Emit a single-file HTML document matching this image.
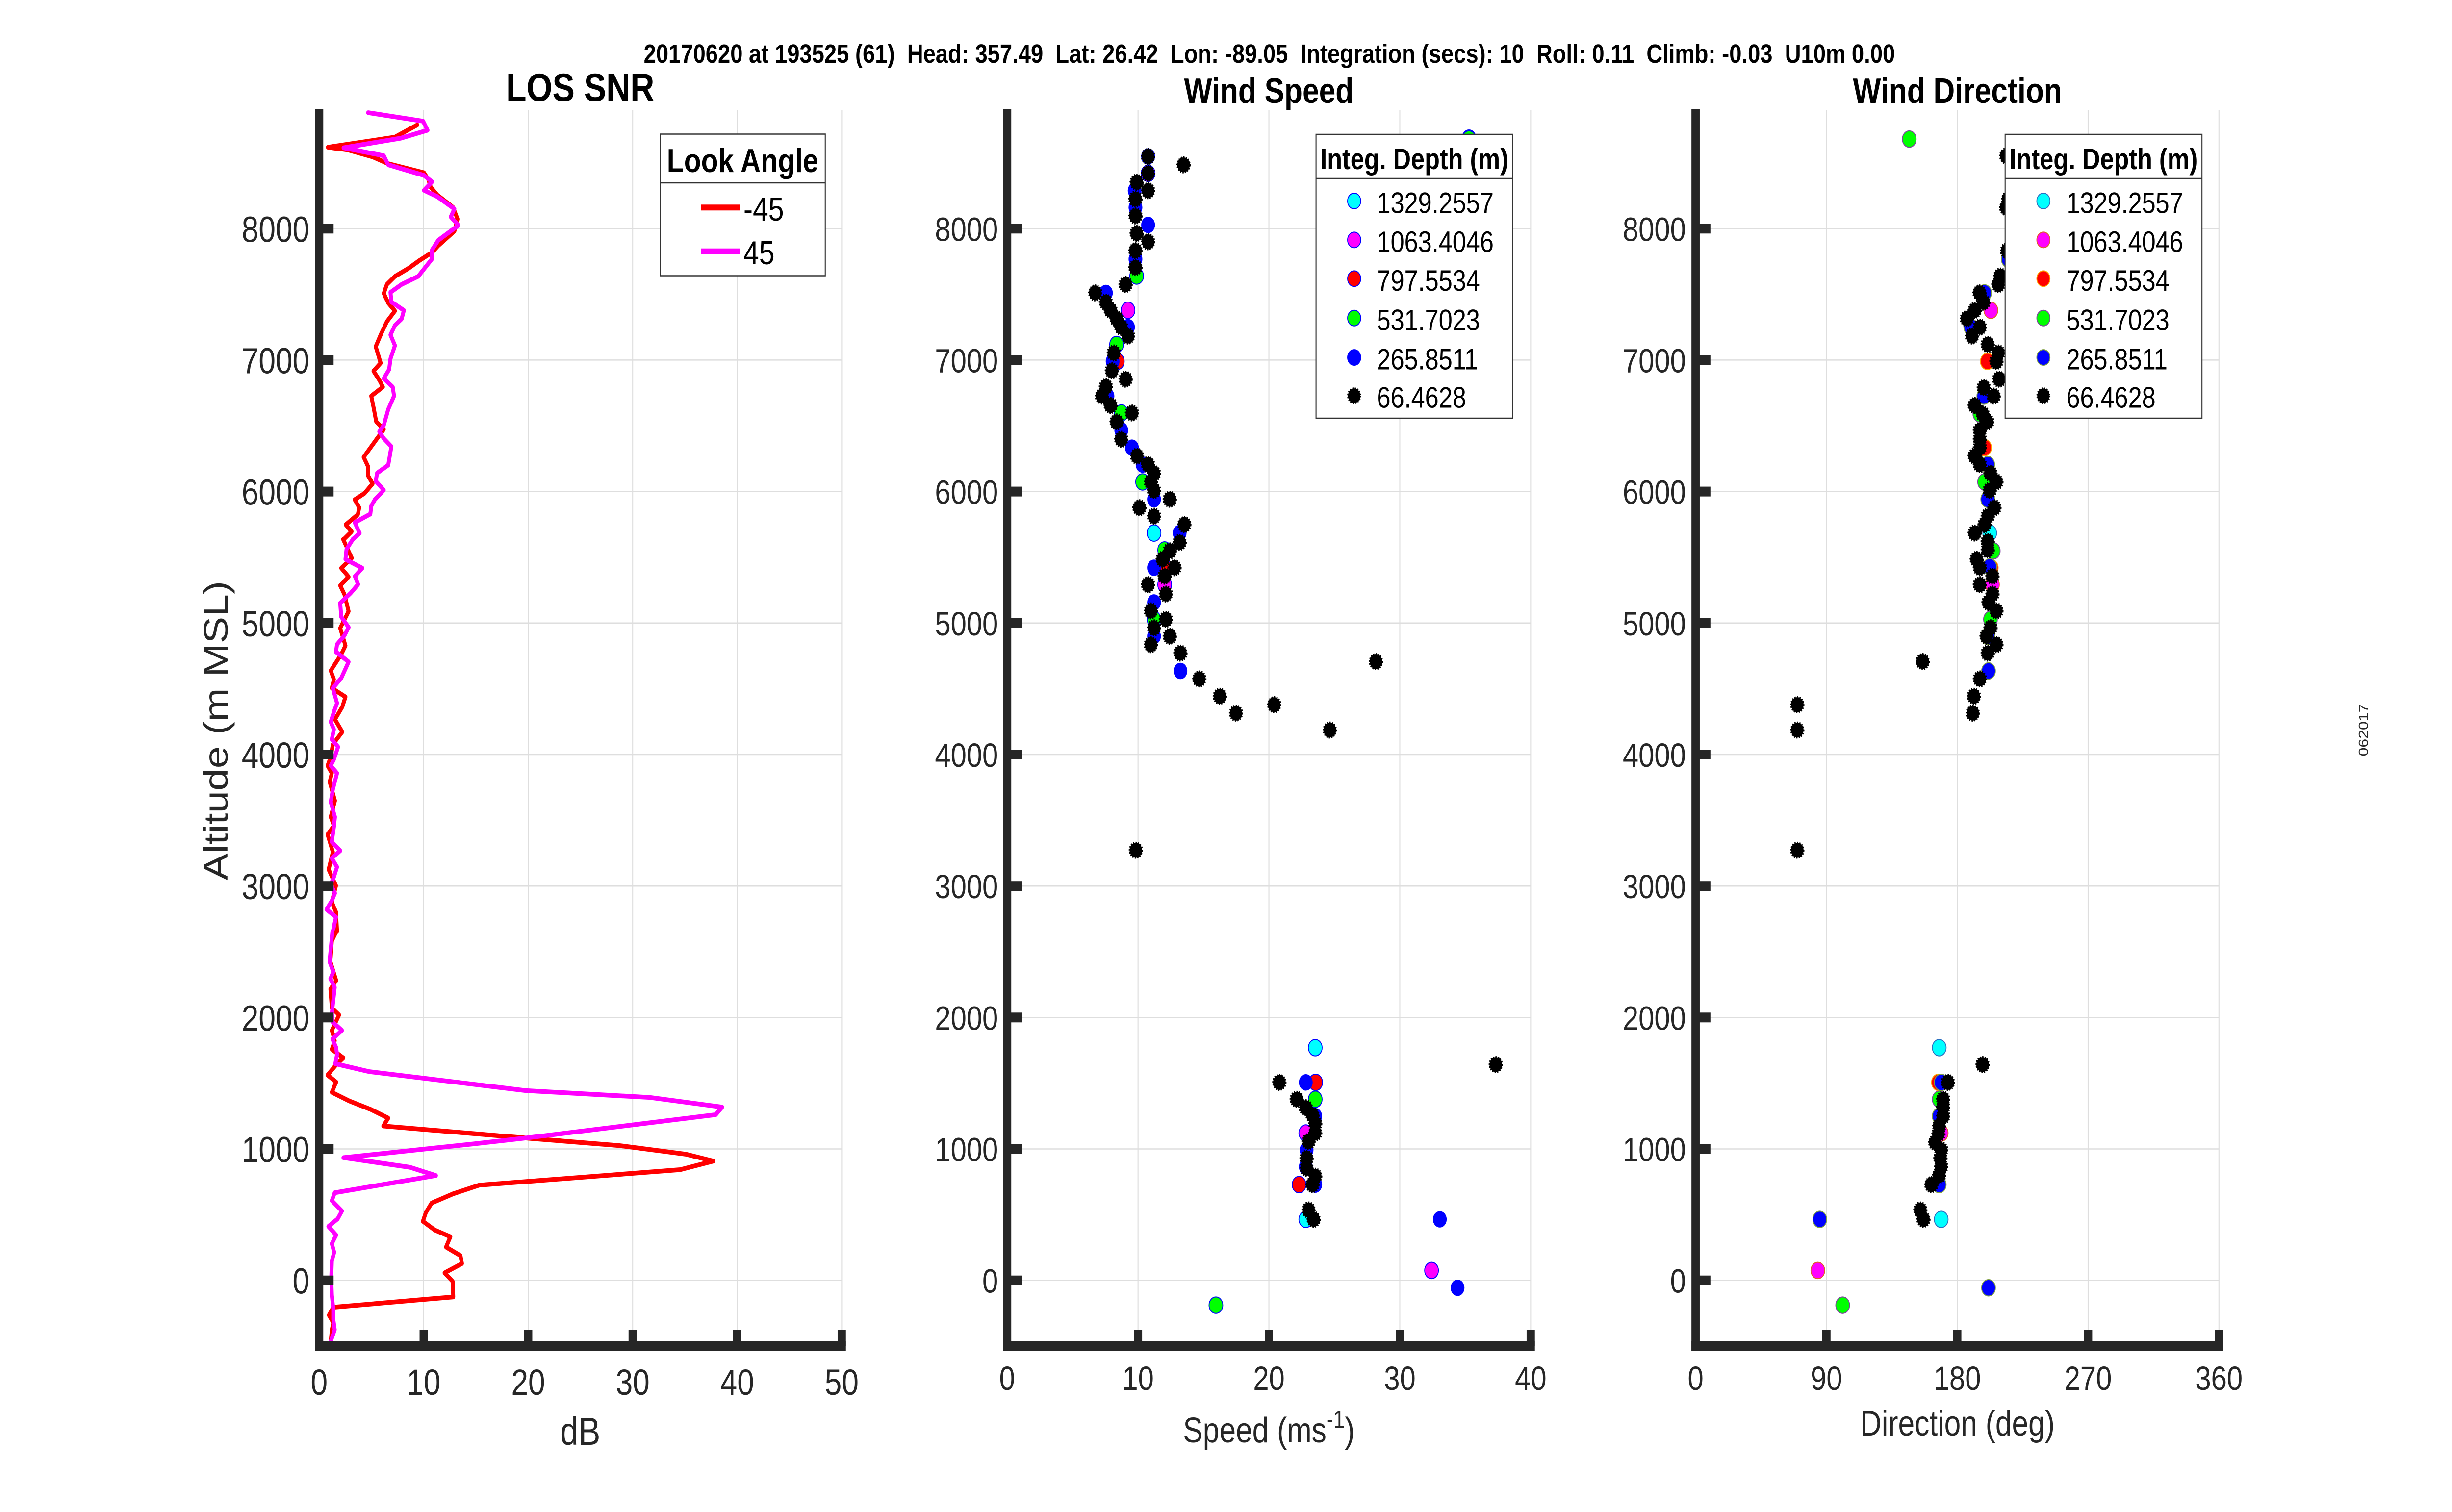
<!DOCTYPE html>
<html><head><meta charset="utf-8"><style>
html,body{margin:0;padding:0;background:#fff;overflow:hidden;width:100%;height:100%;}
svg{display:block;width:100vw;height:100vh;}
text{font-family:"Liberation Sans",Arial,sans-serif;}
</style></head><body>
<svg xmlns="http://www.w3.org/2000/svg" width="5950" height="3084" viewBox="0 0 5950 3084" preserveAspectRatio="none">
<rect width="5950" height="3084" fill="#fff"/>

<!-- ================= GRID ================= -->
<g stroke="#dedede" stroke-width="2.5" fill="none">
  <path d="M1028.1 225V2746M1281.7 225V2746M1535.3 225V2746M1788.9 225V2746M2042.5 225V2746"/>
  <path d="M774.5 2611.7H2042.5M774.5 2343.5H2042.5M774.5 2075.3H2042.5M774.5 1807.2H2042.5M774.5 1539H2042.5M774.5 1270.8H2042.5M774.5 1002.6H2042.5M774.5 734.4H2042.5M774.5 466.3H2042.5"/>
  <path d="M2761.6 225V2746M3079.2 225V2746M3396.8 225V2746M3714.4 225V2746"/>
  <path d="M2444 2611.7H3714.4M2444 2343.5H3714.4M2444 2075.3H3714.4M2444 1807.2H3714.4M2444 1539H3714.4M2444 1270.8H3714.4M2444 1002.6H3714.4M2444 734.4H3714.4M2444 466.3H3714.4"/>
  <path d="M4432 225V2746M4749.5 225V2746M5067 225V2746M5384.5 225V2746"/>
  <path d="M4114.5 2611.7H5384.5M4114.5 2343.5H5384.5M4114.5 2075.3H5384.5M4114.5 1807.2H5384.5M4114.5 1539H5384.5M4114.5 1270.8H5384.5M4114.5 1002.6H5384.5M4114.5 734.4H5384.5M4114.5 466.3H5384.5"/>
</g>

<!-- ================= LOS SNR LINES ================= -->
<g fill="none" stroke-linejoin="round" stroke-linecap="round">
  <g transform="translate(400,0) scale(1.084184)">
    <polyline stroke="#ff0000" stroke-width="8.76" points="565,235 515,258 365,277 410,282 465,295 500,308 580,325 590,338 595,352 610,367 645,390 655,412 648,435 612,462 598,475 570,490 545,505 515,520 497,535 490,552 500,570 515,585 497,605 483,630 472,652 483,683 467,698 480,715 488,728 462,745 468,770 473,793 490,808 475,825 445,860 455,878 455,895 465,910 447,928 425,940 435,955 432,968 405,987 418,1000 400,1015"/>
    <polyline stroke="#ff00ff" stroke-width="8.76" points="455,212 578,228 588,245 528,260 400,278 490,293 500,310 580,330 598,342 580,358 610,370 648,393 640,408 657,424 612,452 598,470 598,487 567,520 530,535 505,550 507,568 535,584 530,600 515,612 505,630 515,650 505,675 502,695 490,712 510,728 513,745 500,770 490,800 480,812 490,825 507,840 500,875 475,890 472,905 490,922 470,940 462,952 460,967 425,983 436,1003 420,1015"/>
  </g>
  <g transform="translate(300,1100) scale(0.510204)">
    <polyline stroke="#ff0000" stroke-width="18.6" points="1044,0 1085,75 1035,115 1070,150 1030,185 1050,220 1070,288 1030,355 1055,425 1035,460 985,525 1000,560 990,595 1055,630 1040,670 1005,720 1040,770 995,820 985,870 970,905 990,935 980,970 1005,1045 985,1110 1000,1145 970,1180 995,1250 975,1320 1010,1385 990,1450 1010,1490 1015,1568"/>
    <polyline stroke="#ff00ff" stroke-width="18.6" points="1090,0 1060,40 1055,80 1135,115 1100,148 1115,180 1080,215 1030,255 1035,310 1070,352 1050,385 1015,420 1010,450 1070,490 1035,555 995,595 1015,655 1000,690 985,730 1000,760 990,800 1020,830 1000,880 985,905 1015,935 995,1000 985,1050 995,1080 1005,1110 1000,1150 990,1210 1030,1245 990,1275 1015,1310 1000,1350 985,1380 1005,1415 990,1445 965,1480 1010,1510 995,1568"/>
  </g>
  <g transform="translate(700,1800) scale(0.701531)">
    <polyline stroke="#ff0000" stroke-width="13.5" points="166,142 150,170 145,230 165,285 145,310 150,365 175,385 150,430 160,460 150,485 190,510 165,530 135,560 165,580 150,610 210,635 285,660 345,685 328,708 850,745 1145,765 1375,790 1470,810 1355,835 660,880 570,905 495,932 475,960 465,985 505,1010 560,1030 545,1060 595,1085 600,1108 540,1135 568,1160 570,1205 155,1235 140,1258 155,1280 150,1300 145,1345"/>
    <polyline stroke="#ff00ff" stroke-width="13.5" points="152,142 142,230 155,260 145,280 160,305 150,380 152,405 185,430 152,455 165,480 168,500 162,527 280,550 820,605 1250,625 1500,653 1478,675 830,742 640,760 190,800 420,828 510,852 160,902 150,925 185,955 170,978 138,1000 165,1025 150,1050 158,1075 150,1100 148,1150 150,1200 155,1240 155,1270 160,1300 142,1345"/>
  </g>
</g>

<!-- ================= WIND SPEED POINTS ================= -->
<g transform="translate(2300,100) scale(0.956633)">
  <g stroke="#0000ff" stroke-width="2.1">
    <circle cx="1322" cy="190" r="17.5" fill="#00ffff"/>
    <circle cx="523" cy="1032" r="17.5" fill="#00ffff"/>
    <circle cx="508" cy="265" r="17.5" fill="#ff00ff"/>
    <circle cx="457" cy="557" r="17.5" fill="#ff00ff"/>
    <circle cx="550" cy="1142" r="17.5" fill="#ff00ff"/>
    <circle cx="430" cy="666" r="17.5" fill="#ff0000"/>
    <circle cx="550" cy="1106" r="17.5" fill="#ff0000"/>
    <circle cx="1322" cy="192" r="17.5" fill="#00ff00"/>
    <circle cx="479" cy="484" r="17.5" fill="#00ff00"/>
    <circle cx="428" cy="630" r="17.5" fill="#00ff00"/>
    <circle cx="440" cy="776" r="17.5" fill="#00ff00"/>
    <circle cx="494" cy="923" r="17.5" fill="#00ff00"/>
    <circle cx="550" cy="1068" r="17.5" fill="#00ff00"/>
    <circle cx="523" cy="1216" r="17.5" fill="#00ff00"/>
  </g>
  <g fill="#0000ff">
    <circle cx="508" cy="229" r="17.5"/><circle cx="474" cy="302" r="17.5"/><circle cx="476" cy="338" r="17.5"/><circle cx="508" cy="375" r="17.5"/><circle cx="476" cy="448" r="17.5"/><circle cx="401" cy="520" r="17.5"/><circle cx="457" cy="593" r="17.5"/><circle cx="418" cy="666" r="17.5"/><circle cx="405" cy="740" r="17.5"/><circle cx="440" cy="813" r="17.5"/><circle cx="467" cy="850" r="17.5"/><circle cx="494" cy="886" r="17.5"/><circle cx="523" cy="960" r="17.5"/><circle cx="588" cy="1032" r="17.5"/><circle cx="523" cy="1106" r="17.5"/><circle cx="523" cy="1180" r="17.5"/><circle cx="523" cy="1252" r="17.5"/><circle cx="590" cy="1326" r="17.5"/>
  </g>
  <g fill="#000" stroke="#000" stroke-width="4.2" stroke-dasharray="3.1 3.1">
    <circle cx="598" cy="247" r="16"/><circle cx="508" cy="229" r="16"/><circle cx="508" cy="265" r="16"/><circle cx="479" cy="284" r="16"/><circle cx="508" cy="302" r="16"/><circle cx="476" cy="320" r="16"/><circle cx="476" cy="356" r="16"/><circle cx="479" cy="393" r="16"/><circle cx="508" cy="411" r="16"/><circle cx="476" cy="430" r="16"/><circle cx="476" cy="466" r="16"/><circle cx="451" cy="502" r="16"/><circle cx="374" cy="520" r="16"/><circle cx="401" cy="540" r="16"/><circle cx="413" cy="557" r="16"/><circle cx="428" cy="575" r="16"/><circle cx="440" cy="593" r="16"/><circle cx="457" cy="612" r="16"/><circle cx="421" cy="648" r="16"/><circle cx="416" cy="686" r="16"/><circle cx="451" cy="704" r="16"/><circle cx="401" cy="720" r="16"/><circle cx="391" cy="740" r="16"/><circle cx="413" cy="760" r="16"/><circle cx="467" cy="776" r="16"/><circle cx="428" cy="795" r="16"/><circle cx="440" cy="832" r="16"/><circle cx="480" cy="868" r="16"/><circle cx="508" cy="886" r="16"/><circle cx="523" cy="905" r="16"/><circle cx="515" cy="923" r="16"/><circle cx="523" cy="941" r="16"/><circle cx="563" cy="960" r="16"/><circle cx="486" cy="978" r="16"/><circle cx="523" cy="996" r="16"/><circle cx="600" cy="1014" r="16"/><circle cx="588" cy="1052" r="16"/><circle cx="563" cy="1070" r="16"/><circle cx="545" cy="1088" r="16"/><circle cx="575" cy="1106" r="16"/><circle cx="550" cy="1124" r="16"/><circle cx="508" cy="1142" r="16"/><circle cx="553" cy="1162" r="16"/><circle cx="515" cy="1198" r="16"/><circle cx="553" cy="1216" r="16"/><circle cx="523" cy="1234" r="16"/><circle cx="563" cy="1252" r="16"/><circle cx="515" cy="1270" r="16"/><circle cx="590" cy="1288" r="16"/><circle cx="638" cy="1343" r="16"/><circle cx="690" cy="1380" r="16"/><circle cx="731" cy="1416" r="16"/><circle cx="828" cy="1398" r="16"/><circle cx="969" cy="1452" r="16"/><circle cx="1086" cy="1306" r="16"/>
  </g>
</g>
<g transform="translate(2300,1584) scale(0.956633)">
  <g stroke="#0000ff" stroke-width="2.1">
    <circle cx="932" cy="578" r="17.5" fill="#00ffff"/>
    <circle cx="908" cy="944" r="17.5" fill="#00ffff"/>
    <circle cx="908" cy="760" r="17.5" fill="#ff00ff"/>
    <circle cx="1227" cy="1053" r="17.5" fill="#ff00ff"/>
    <circle cx="933" cy="652" r="17.5" fill="#ff0000"/>
    <circle cx="891" cy="870" r="17.5" fill="#ff0000"/>
    <circle cx="932" cy="688" r="17.5" fill="#00ff00"/>
    <circle cx="680" cy="1127" r="17.5" fill="#00ff00"/>
  </g>
  <g fill="#0000ff">
    <circle cx="908" cy="652" r="17.5"/><circle cx="932" cy="724" r="17.5"/><circle cx="910" cy="796" r="17.5"/><circle cx="908" cy="832" r="17.5"/><circle cx="932" cy="870" r="17.5"/><circle cx="1248" cy="944" r="17.5"/><circle cx="1293" cy="1090" r="17.5"/>
  </g>
  <g fill="#000" stroke="#000" stroke-width="4.2" stroke-dasharray="3.1 3.1">
    <circle cx="477" cy="157" r="16"/><circle cx="841" cy="652" r="16"/><circle cx="885" cy="688" r="16"/><circle cx="908" cy="706" r="16"/><circle cx="925" cy="722" r="16"/><circle cx="932" cy="740" r="16"/><circle cx="932" cy="760" r="16"/><circle cx="915" cy="778" r="16"/><circle cx="910" cy="814" r="16"/><circle cx="910" cy="835" r="16"/><circle cx="932" cy="852" r="16"/><circle cx="925" cy="870" r="16"/><circle cx="915" cy="924" r="16"/><circle cx="928" cy="944" r="16"/><circle cx="1390" cy="614" r="16"/>
  </g>
</g>

<!-- ================= WIND DIRECTION POINTS ================= -->
<g transform="translate(3950,100) scale(0.956633)">
  <g stroke-width="2.1">
    <circle cx="918" cy="1032" r="17.5" fill="#00ffff" stroke="#2a6fc0"/>
    <circle cx="921" cy="557" r="17.5" fill="#ff00ff" stroke="#e06020"/>
    <circle cx="925" cy="1142" r="17.5" fill="#ff00ff" stroke="#e06020"/>
    <circle cx="912" cy="666" r="17.5" fill="#ff0000" stroke="#ffa500"/>
    <circle cx="905" cy="850" r="17.5" fill="#ff0000" stroke="#ffa500"/>
    <circle cx="922" cy="1106" r="17.5" fill="#ff0000" stroke="#ffa500"/>
    <circle cx="714" cy="192" r="17.5" fill="#00ff00" stroke="#8040a0"/>
    <circle cx="893" cy="778" r="17.5" fill="#00ff00" stroke="#8040a0"/>
    <circle cx="905" cy="923" r="17.5" fill="#00ff00" stroke="#8040a0"/>
    <circle cx="927" cy="1070" r="17.5" fill="#00ff00" stroke="#8040a0"/>
    <circle cx="920" cy="1216" r="17.5" fill="#00ff00" stroke="#8040a0"/>
  </g>
  <g fill="#0000ff" stroke="#80a040" stroke-width="2.1">
    <circle cx="905" cy="520" r="17.5"/><circle cx="870" cy="593" r="17.5"/><circle cx="903" cy="740" r="17.5"/><circle cx="913" cy="886" r="17.5"/><circle cx="913" cy="960" r="17.5"/><circle cx="918" cy="1104" r="17.5"/><circle cx="913" cy="1252" r="17.5"/><circle cx="915" cy="1326" r="17.5"/><circle cx="965" cy="448" r="17.5"/>
  </g>
  <g fill="#000" stroke="#000" stroke-width="4.2" stroke-dasharray="3.1 3.1">
    <circle cx="960" cy="228" r="16"/><circle cx="965" cy="320" r="16"/><circle cx="960" cy="338" r="16"/><circle cx="962" cy="430" r="16"/><circle cx="945" cy="484" r="16"/><circle cx="940" cy="502" r="16"/><circle cx="892" cy="520" r="16"/><circle cx="902" cy="540" r="16"/><circle cx="880" cy="557" r="16"/><circle cx="860" cy="575" r="16"/><circle cx="893" cy="593" r="16"/><circle cx="873" cy="612" r="16"/><circle cx="913" cy="630" r="16"/><circle cx="940" cy="648" r="16"/><circle cx="935" cy="666" r="16"/><circle cx="942" cy="704" r="16"/><circle cx="903" cy="722" r="16"/><circle cx="928" cy="740" r="16"/><circle cx="880" cy="760" r="16"/><circle cx="900" cy="778" r="16"/><circle cx="912" cy="795" r="16"/><circle cx="893" cy="813" r="16"/><circle cx="893" cy="832" r="16"/><circle cx="893" cy="850" r="16"/><circle cx="880" cy="868" r="16"/><circle cx="893" cy="886" r="16"/><circle cx="920" cy="905" r="16"/><circle cx="935" cy="923" r="16"/><circle cx="918" cy="941" r="16"/><circle cx="930" cy="978" r="16"/><circle cx="913" cy="996" r="16"/><circle cx="905" cy="1014" r="16"/><circle cx="880" cy="1032" r="16"/><circle cx="913" cy="1050" r="16"/><circle cx="913" cy="1068" r="16"/><circle cx="885" cy="1088" r="16"/><circle cx="893" cy="1106" r="16"/><circle cx="925" cy="1124" r="16"/><circle cx="893" cy="1142" r="16"/><circle cx="925" cy="1162" r="16"/><circle cx="915" cy="1180" r="16"/><circle cx="935" cy="1198" r="16"/><circle cx="920" cy="1234" r="16"/><circle cx="910" cy="1252" r="16"/><circle cx="935" cy="1270" r="16"/><circle cx="913" cy="1288" r="16"/><circle cx="893" cy="1343" r="16"/><circle cx="878" cy="1380" r="16"/><circle cx="875" cy="1416" r="16"/><circle cx="748" cy="1306" r="16"/><circle cx="430" cy="1398" r="16"/><circle cx="430" cy="1452" r="16"/>
  </g>
</g>
<g transform="translate(3950,1584) scale(0.956633)">
  <g stroke-width="2.1">
    <circle cx="790" cy="578" r="17.5" fill="#00ffff" stroke="#2a6fc0"/>
    <circle cx="795" cy="944" r="17.5" fill="#00ffff" stroke="#2a6fc0"/>
    <circle cx="795" cy="760" r="17.5" fill="#ff00ff" stroke="#e06020"/>
    <circle cx="482" cy="1053" r="17.5" fill="#ff00ff" stroke="#e06020"/>
    <circle cx="788" cy="652" r="17.5" fill="#ff0000" stroke="#ffa500"/>
    <circle cx="790" cy="688" r="17.5" fill="#00ff00" stroke="#8040a0"/>
    <circle cx="545" cy="1127" r="17.5" fill="#00ff00" stroke="#8040a0"/>
  </g>
  <g fill="#0000ff" stroke="#80a040" stroke-width="2.1">
    <circle cx="795" cy="652" r="17.5"/><circle cx="790" cy="724" r="17.5"/><circle cx="790" cy="870" r="17.5"/><circle cx="487" cy="944" r="17.5"/><circle cx="915" cy="1090" r="17.5"/>
  </g>
  <g fill="#000" stroke="#000" stroke-width="4.2" stroke-dasharray="3.1 3.1">
    <circle cx="430" cy="157" r="16"/><circle cx="900" cy="614" r="16"/><circle cx="812" cy="652" r="16"/><circle cx="800" cy="688" r="16"/><circle cx="800" cy="705" r="16"/><circle cx="800" cy="724" r="16"/><circle cx="790" cy="745" r="16"/><circle cx="788" cy="762" r="16"/><circle cx="780" cy="780" r="16"/><circle cx="795" cy="796" r="16"/><circle cx="793" cy="814" r="16"/><circle cx="795" cy="832" r="16"/><circle cx="790" cy="850" r="16"/><circle cx="770" cy="870" r="16"/><circle cx="742" cy="924" r="16"/><circle cx="750" cy="944" r="16"/>
  </g>
</g>

<!-- ================= AXES ================= -->
<g fill="#262626">
  <rect x="764.5" y="222" width="20" height="2534"/>
  <rect x="764.5" y="2736" width="1288" height="20"/>
  <rect x="774.5" y="2601.7" width="35" height="20"/><rect x="774.5" y="2333.5" width="35" height="20"/><rect x="774.5" y="2065.3" width="35" height="20"/><rect x="774.5" y="1797.2" width="35" height="20"/><rect x="774.5" y="1529" width="35" height="20"/><rect x="774.5" y="1260.8" width="35" height="20"/><rect x="774.5" y="992.6" width="35" height="20"/><rect x="774.5" y="724.4" width="35" height="20"/><rect x="774.5" y="456.3" width="35" height="20"/>
  <rect x="1018.1" y="2712" width="20" height="34"/><rect x="1271.7" y="2712" width="20" height="34"/><rect x="1525.3" y="2712" width="20" height="34"/><rect x="1778.9" y="2712" width="20" height="34"/><rect x="2032.5" y="2712" width="20" height="34"/>
  <rect x="2434" y="222" width="20" height="2534"/>
  <rect x="2434" y="2736" width="1290.4" height="20"/>
  <rect x="2444" y="2601.7" width="36" height="20"/><rect x="2444" y="2333.5" width="36" height="20"/><rect x="2444" y="2065.3" width="36" height="20"/><rect x="2444" y="1797.2" width="36" height="20"/><rect x="2444" y="1529" width="36" height="20"/><rect x="2444" y="1260.8" width="36" height="20"/><rect x="2444" y="992.6" width="36" height="20"/><rect x="2444" y="724.4" width="36" height="20"/><rect x="2444" y="456.3" width="36" height="20"/>
  <rect x="2751.6" y="2712" width="20" height="34"/><rect x="3069.2" y="2712" width="20" height="34"/><rect x="3386.8" y="2712" width="20" height="34"/><rect x="3704.4" y="2712" width="20" height="34"/>
  <rect x="4104.5" y="222" width="20" height="2534"/>
  <rect x="4104.5" y="2736" width="1290" height="20"/>
  <rect x="4114.5" y="2601.7" width="36" height="20"/><rect x="4114.5" y="2333.5" width="36" height="20"/><rect x="4114.5" y="2065.3" width="36" height="20"/><rect x="4114.5" y="1797.2" width="36" height="20"/><rect x="4114.5" y="1529" width="36" height="20"/><rect x="4114.5" y="1260.8" width="36" height="20"/><rect x="4114.5" y="992.6" width="36" height="20"/><rect x="4114.5" y="724.4" width="36" height="20"/><rect x="4114.5" y="456.3" width="36" height="20"/>
  <rect x="4422" y="2712" width="20" height="34"/><rect x="4739.5" y="2712" width="20" height="34"/><rect x="5057" y="2712" width="20" height="34"/><rect x="5374.5" y="2712" width="20" height="34"/>
</g>

<!-- ================= TICK LABELS ================= -->
<g fill="#262626" font-size="74" text-anchor="end">
  <text x="751" y="2638.7">0</text><text x="751" y="2370.5">1000</text><text x="751" y="2102.3">2000</text><text x="751" y="1834.2">3000</text><text x="751" y="1566">4000</text><text x="751" y="1297.8">5000</text><text x="751" y="1029.6">6000</text><text x="751" y="761.4">7000</text><text x="751" y="493.3">8000</text>
</g>
<g fill="#262626" font-size="74" text-anchor="middle">
  <text x="774.5" y="2845">0</text><text x="1028.1" y="2845">10</text><text x="1281.7" y="2845">20</text><text x="1535.3" y="2845">30</text><text x="1788.9" y="2845">40</text><text x="2042.5" y="2845">50</text>
</g>
<g fill="#262626" font-size="69" text-anchor="end">
  <text x="2422" y="2636.7">0</text><text x="2422" y="2368.5">1000</text><text x="2422" y="2100.3">2000</text><text x="2422" y="1832.2">3000</text><text x="2422" y="1564">4000</text><text x="2422" y="1295.8">5000</text><text x="2422" y="1027.6">6000</text><text x="2422" y="759.4">7000</text><text x="2422" y="491.3">8000</text>
  <text x="4091" y="2636.7">0</text><text x="4091" y="2368.5">1000</text><text x="4091" y="2100.3">2000</text><text x="4091" y="1832.2">3000</text><text x="4091" y="1564">4000</text><text x="4091" y="1295.8">5000</text><text x="4091" y="1027.6">6000</text><text x="4091" y="759.4">7000</text><text x="4091" y="491.3">8000</text>
</g>
<g fill="#262626" font-size="69" text-anchor="middle">
  <text x="2444" y="2835">0</text><text x="2761.6" y="2835">10</text><text x="3079.2" y="2835">20</text><text x="3396.8" y="2835">30</text><text x="3714.4" y="2835">40</text>
  <text x="4114.5" y="2835">0</text><text x="4432" y="2835">90</text><text x="4749.5" y="2835">180</text><text x="5067" y="2835">270</text><text x="5384.5" y="2835">360</text>
</g>

<!-- ================= AXIS LABELS ================= -->
<g fill="#262626" text-anchor="middle">
  <text x="1408" y="2947" font-size="80">dB</text>
  <text transform="translate(552,1490) rotate(-90)" font-size="82">Altitude (m MSL)</text>
  <text x="3079" y="2942" font-size="72">Speed (ms<tspan dy="-30" font-size="50">-1</tspan><tspan dy="30">)</tspan></text>
  <text x="4750" y="2928" font-size="72">Direction (deg)</text>
  <text transform="translate(5746,1489) rotate(-90)" font-size="32">062017</text>
</g>

<!-- ================= TITLES ================= -->
<g fill="#000" font-weight="bold" text-anchor="middle">
  <text x="1408" y="206" font-size="81">LOS SNR</text>
  <text x="3079" y="210" font-size="72">Wind Speed</text>
  <text x="4750" y="210" font-size="72">Wind Direction</text>
</g>
<text x="1562" y="128" font-size="54" font-weight="bold" fill="#000" style="white-space:pre">20170620 at 193525 (61)  Head: 357.49  Lat: 26.42  Lon: -89.05  Integration (secs): 10  Roll: 0.11  Climb: -0.03  U10m 0.00</text>

<!-- ================= LEGENDS ================= -->
<rect x="1602" y="273.5" width="400.5" height="289" fill="#fff" stroke="#333" stroke-width="2.5"/>
<line x1="1602" y1="373" x2="2002.5" y2="373" stroke="#333" stroke-width="2.5"/>
<text x="1802" y="351" font-size="68" font-weight="bold" text-anchor="middle" fill="#000">Look Angle</text>
<rect x="1700.8" y="417.3" width="94" height="12" fill="#ff0000"/>
<rect x="1700.8" y="506.7" width="94" height="12" fill="#ff00ff"/>
<text x="1804" y="450" font-size="68" fill="#000">-45</text>
<text x="1804" y="539" font-size="68" fill="#000">45</text>

<rect x="3193.5" y="274" width="477.5" height="579" fill="#fff" stroke="#333" stroke-width="2.5"/>
<line x1="3193.5" y1="364" x2="3671" y2="364" stroke="#333" stroke-width="2.5"/>
<text x="3432" y="345" font-size="60" font-weight="bold" text-anchor="middle" fill="#000">Integ. Depth (m)</text>
<g stroke="#0000ff" stroke-width="2">
  <circle cx="3286" cy="410" r="16" fill="#00ffff"/>
  <circle cx="3286" cy="489.4" r="16" fill="#ff00ff"/>
  <circle cx="3286" cy="568.4" r="16" fill="#ff0000"/>
  <circle cx="3286" cy="648.8" r="16" fill="#00ff00"/>
  <circle cx="3286" cy="729.1" r="16" fill="#0000ff"/>
</g>
<circle cx="3286" cy="807.2" r="15" fill="#000" stroke="#000" stroke-width="4" stroke-dasharray="3 3"/>
<g font-size="60" fill="#000">
  <text x="3341" y="434.5">1329.2557</text>
  <text x="3341" y="513.9">1063.4046</text>
  <text x="3341" y="592.9">797.5534</text>
  <text x="3341" y="673.3">531.7023</text>
  <text x="3341" y="753.6">265.8511</text>
  <text x="3341" y="831.7">66.4628</text>
</g>

<rect x="4865.6" y="274" width="477.7" height="579" fill="#fff" stroke="#333" stroke-width="2.5"/>
<line x1="4865.6" y1="364" x2="5343.3" y2="364" stroke="#333" stroke-width="2.5"/>
<text x="5104.5" y="345" font-size="60" font-weight="bold" text-anchor="middle" fill="#000">Integ. Depth (m)</text>
<g stroke-width="2">
  <circle cx="4958.5" cy="410" r="16" fill="#00ffff" stroke="#2a6fc0"/>
  <circle cx="4958.5" cy="489.4" r="16" fill="#ff00ff" stroke="#e06020"/>
  <circle cx="4958.5" cy="568.4" r="16" fill="#ff0000" stroke="#ffa500"/>
  <circle cx="4958.5" cy="648.8" r="16" fill="#00ff00" stroke="#8040a0"/>
  <circle cx="4958.5" cy="729.1" r="16" fill="#0000ff" stroke="#80a040"/>
</g>
<circle cx="4958.5" cy="807.2" r="15" fill="#000" stroke="#000" stroke-width="4" stroke-dasharray="3 3"/>
<g font-size="60" fill="#000">
  <text x="5014" y="434.5">1329.2557</text>
  <text x="5014" y="513.9">1063.4046</text>
  <text x="5014" y="592.9">797.5534</text>
  <text x="5014" y="673.3">531.7023</text>
  <text x="5014" y="753.6">265.8511</text>
  <text x="5014" y="831.7">66.4628</text>
</g>
</svg>
</body></html>
